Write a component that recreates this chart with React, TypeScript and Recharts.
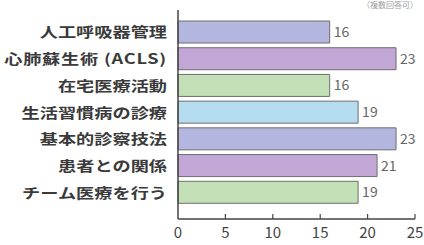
import { BarChart, Bar, XAxis, YAxis, Cell, LabelList } from "recharts";

const categories = [
  "人工呼吸器管理",
  "心肺蘇生術 (ACLS)",
  "在宅医療活動",
  "生活習慣病の診療",
  "基本的診察技法",
  "患者との関係",
  "チーム医療を行う",
];
const counts = [16, 23, 16, 19, 23, 21, 19];
const xTicks = [0, 5, 10, 15, 20, 25];

const barColors = ["#b3b6df", "#c2a7d6", "#c3dfb6", "#b5dbef", "#b3b6df", "#c2a7d6", "#c3dfb6"];
const FONT = "'Noto Sans CJK JP', 'Noto Sans', sans-serif";

const data = categories.map((name, i) => ({ name, value: counts[i] }));

function CategoryTick({ x, y, payload }: any) {
  return (
    <g transform={`translate(${x - 11},${y}) scale(1.3,1)`}>
      <text
        x={0}
        y={0}
        dy="0.36em"
        textAnchor="end"
        fontSize={14}
        fontWeight={700}
        fill="#3a3a3a"
        fontFamily={FONT}
        letterSpacing={payload.value.includes("ACLS") ? 0.6 : 0}
      >
        {payload.value}
      </text>
    </g>
  );
}

function ValueTick({ x, y, payload }: any) {
  return (
    <g>
      {payload.value !== 0 && <line x1={x} x2={x} y1={y - 5} y2={y} stroke="#444" strokeWidth={1.2} />}
      <text x={x} y={y + 19} textAnchor="middle" fontSize={15} fill="#444" fontFamily={FONT}>
        {payload.value}
      </text>
    </g>
  );
}

export default function App() {
  return (
    <div style={{ position: "absolute", left: 0, top: 0, width: 424, height: 245, background: "#fff" }}>
      <div
        style={{
          position: "absolute",
          right: 6,
          top: 0,
          fontSize: 8,
          lineHeight: "9px",
          color: "#a0a0a0",
          fontFamily: FONT,
        }}
      >
        （複数回答可）
      </div>
      <BarChart
        width={424}
        height={245}
        data={data}
        layout="vertical"
        margin={{ top: 10, right: 9, left: 0, bottom: 0 }}
        barCategoryGap={0}
      >
        <XAxis
          type="number"
          domain={[0, 25]}
          ticks={xTicks}
          interval={0}
          tickLine={false}
          tickSize={0}
          tickMargin={0}
          height={26}
          axisLine={{ stroke: "#444", strokeWidth: 1.5 }}
          tick={<ValueTick />}
        />
        <YAxis
          type="category"
          dataKey="name"
          width={178}
          tickLine={false}
          tickSize={0}
          tickMargin={0}
          interval={0}
          padding={{ top: 9, bottom: 13 }}
          axisLine={{ stroke: "#444", strokeWidth: 1.5 }}
          tick={<CategoryTick />}
        />
        <Bar dataKey="value" barSize={22} stroke="#6e6e6e" strokeWidth={1} isAnimationActive={false}>
          {data.map((d, i) => (
            <Cell key={d.name} fill={barColors[i]} />
          ))}
          <LabelList
            dataKey="value"
            position="right"
            offset={4}
            fill="#666"
            fontSize={14}
            fontFamily={FONT}
          />
        </Bar>
      </BarChart>
    </div>
  );
}
